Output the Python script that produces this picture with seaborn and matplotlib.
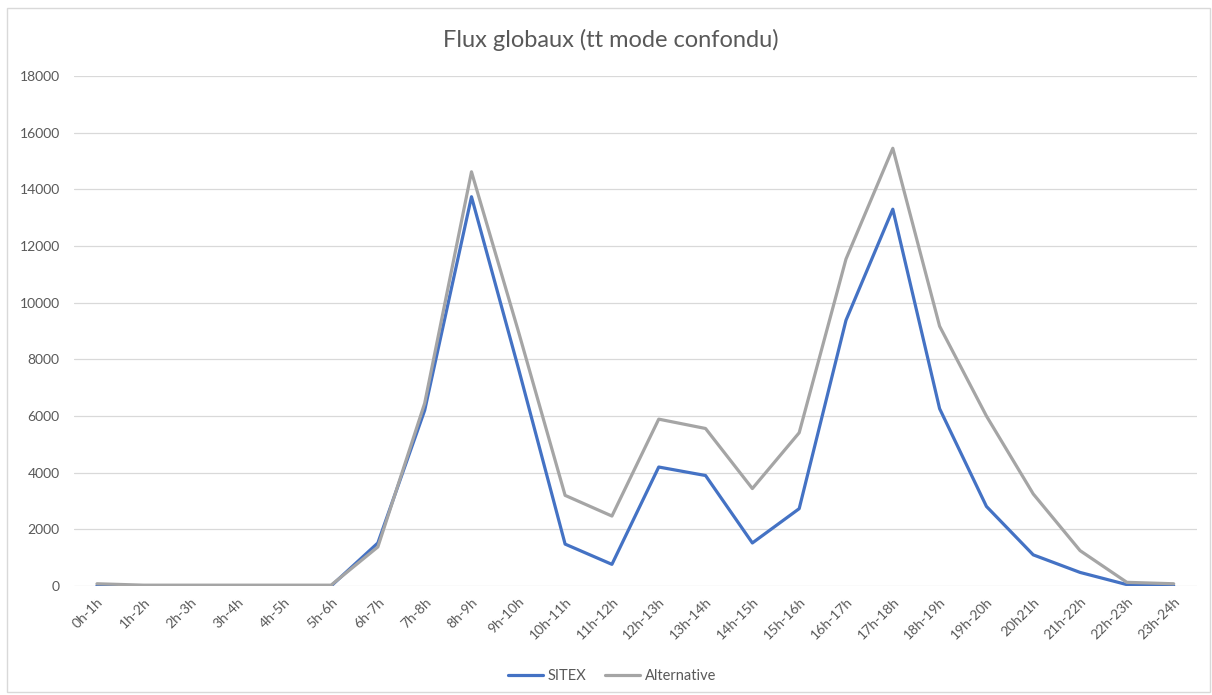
import matplotlib
matplotlib.use("Agg")
import matplotlib.pyplot as plt
from matplotlib.patches import Rectangle
import numpy as np
import pandas as pd
import seaborn as sns

# Hourly time slots
slots = ["0h-1h", "1h-2h", "2h-3h", "3h-4h", "4h-5h", "5h-6h", "6h-7h", "7h-8h",
         "8h-9h", "9h-10h", "10h-11h", "11h-12h", "12h-13h", "13h-14h", "14h-15h",
         "15h-16h", "16h-17h", "17h-18h", "18h-19h", "19h-20h", "20h21h", "21h-22h",
         "22h-23h", "23h-24h"]

# Flows per scenario
sitex = [10, 0, 0, 0, 0, 0, 1520, 6200, 13740, 7700, 1480, 765, 4200, 3900, 1520,
         2730, 9380, 13300, 6260, 2810, 1100, 480, 50, 10]
alternative = [80, 30, 30, 30, 30, 30, 1380, 6450, 14620, 9000, 3200, 2470, 5890, 5560,
               3440, 5410, 11540, 15450, 9170, 6000, 3250, 1250, 130, 80]

y_ticks = [0, 2000, 4000, 6000, 8000, 10000, 12000, 14000, 16000, 18000]

title = "Flux globaux (tt mode confondu)"
series_names = ["SITEX", "Alternative"]
colors = {"SITEX": "#4472C4", "Alternative": "#A5A5A5"}

sns.set_style("white")
plt.rcParams["font.family"] = ["Lato", "DejaVu Sans"]

df = pd.DataFrame({
    "slot": list(range(len(slots))) * 2,
    "value": sitex + alternative,
    "series": [series_names[0]] * len(slots) + [series_names[1]] * len(slots),
})

fig = plt.figure(figsize=(12.12, 6.95), dpi=100)
ax = fig.add_axes([0.0607, 0.1568, 0.927, 0.7338])

sns.lineplot(data=df, x="slot", y="value", hue="series", palette=colors,
             linewidth=2.3, ax=ax, legend=False, sort=False)

ax.set_xlim(-0.5, len(slots) - 0.5)
ax.set_ylim(0, 18000)
ax.set_yticks(y_ticks)
ax.set_yticklabels([str(v) for v in y_ticks])
ax.set_xticks(range(len(slots)))
ax.set_xticklabels(slots, rotation=45, ha="right", rotation_mode="anchor")
ax.yaxis.grid(True, color="#D9D9D9", linewidth=0.9)
ax.set_axisbelow(True)
for s in ax.spines.values():
    s.set_visible(False)
ax.tick_params(axis="both", length=0, labelsize=10, colors="#595959")
ax.tick_params(axis="y", pad=10)
ax.tick_params(axis="x", pad=7)
ax.set_xlabel("")
ax.set_ylabel("")

fig.text(0.504, 0.942, title, ha="center", va="center", fontsize=17, color="#595959")

handles = [plt.Line2D([], [], color=colors[n], linewidth=2.3) for n in series_names]
fig.legend(handles, series_names, loc="center", bbox_to_anchor=(0.505, 0.027), ncol=2,
           frameon=False, fontsize=10.5, handlelength=2.4, handletextpad=0.3,
           columnspacing=1.3, labelcolor="#595959")

# Chart area border
fig.patches.append(Rectangle((0.006, 0.004), 0.992, 0.984, transform=fig.transFigure,
                             fill=False, edgecolor="#D9D9D9", linewidth=1.0))

fig.savefig("out.png", dpi=100)
